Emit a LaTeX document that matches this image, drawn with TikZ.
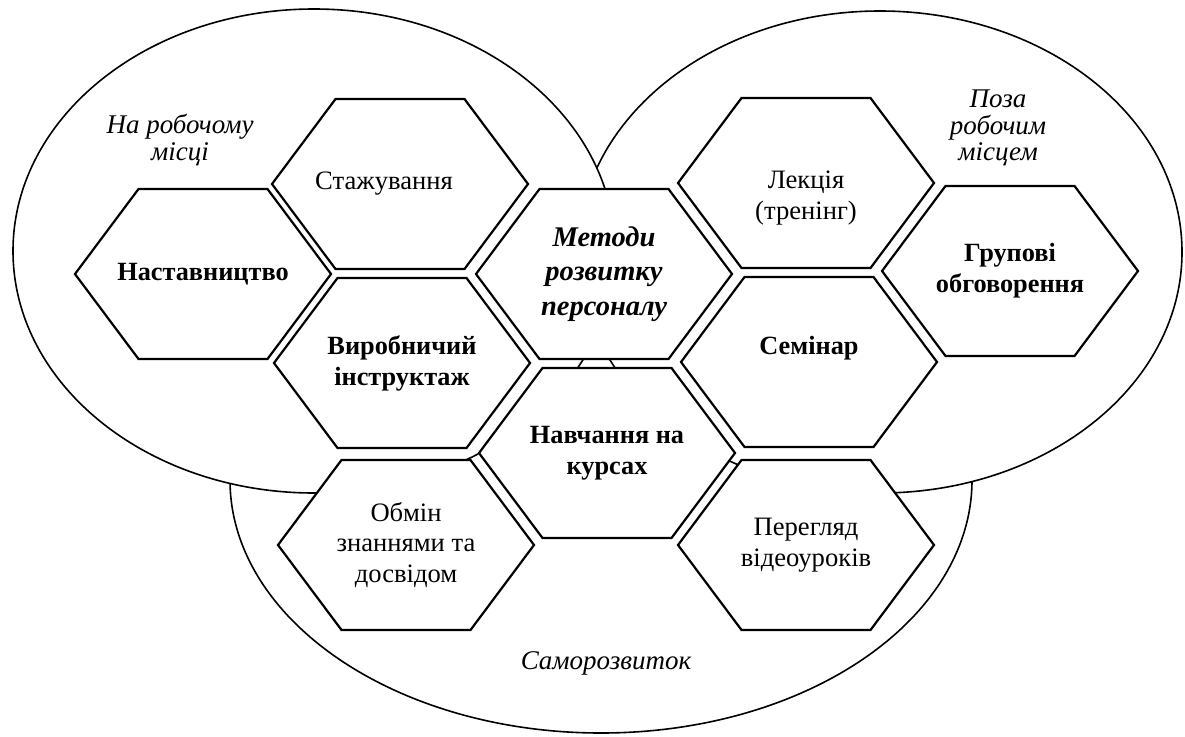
\documentclass[tikz,border=0pt]{standalone}
\usepackage{fontspec}
\setmainfont{Liberation Serif}
\newcommand\hexa[5]{%
  \path[hexline] (#2-128,#3) -- (#2-64.5,#3-85) -- (#2+64.5,#3-85) -- (#2+128,#3) -- (#2+64.5,#3+85) -- (#2-64.5,#3+85) -- cycle;
  \node[#4] (#1) at (#2,#3) {#5};}
\begin{document}
\begin{tikzpicture}[x=1pt,y=-1pt,
  ell/.style={draw=black,fill=white,line width=1.6pt},
  hexline/.style={draw=black,fill=white,line width=2.2pt,line join=miter},
  txt/.style={align=center,inner sep=0pt,font=\fontsize{26.6}{30.5}\selectfont},
  bld/.style={align=center,inner sep=0pt,font=\fontsize{26.3}{31}\selectfont\bfseries},
  bit/.style={align=center,inner sep=0pt,font=\fontsize{28.5}{34.5}\selectfont\bfseries\itshape},
  lbl/.style={align=center,inner sep=0pt,font=\fontsize{27}{26.5}\selectfont\itshape}]
\useasboundingbox[fill=white] (0,0) rectangle (1185,736);
% ellipses
\path[ell] (601,480) ellipse [x radius=371, y radius=253];
\path[ell] (880,252) ellipse [x radius=302, y radius=241];
\path[ell] (314,251) ellipse [x radius=301, y radius=242];
% hexagons
\hexa{nast}{203}{274}{bld}{Наставництво}
\hexa{stazh}{400}{184}{txt,xshift=-16pt}{Стажування}
\hexa{vyrob}{402}{363}{bld}{Виробничий\\інструктаж}
\hexa{metody}{604}{274}{bit}{Методи\\розвитку\\персоналу}
\hexa{navch}{607}{453}{bld}{Навчання на\\курсах}
\hexa{obmin}{406}{545}{txt}{Обмін\\знаннями та\\досвідом}
\hexa{lekc}{806}{183}{txt,yshift=-15pt}{Лекція\\(тренінг)}
\hexa{semin}{809}{362}{bld,yshift=14pt}{Семінар}
\hexa{grup}{1010}{271}{bld}{Групові\\обговорення}
\hexa{pereg}{806}{545}{txt}{Перегляд\\відеоуроків}
% labels
\node[lbl] (lwork) at (180,140) {На робочому\\місці};
\node[lbl] (lout) at (998,128) {Поза\\робочим\\місцем};
\node[lbl] (lself) at (606,663) {Саморозвиток};
\end{tikzpicture}
\end{document}
